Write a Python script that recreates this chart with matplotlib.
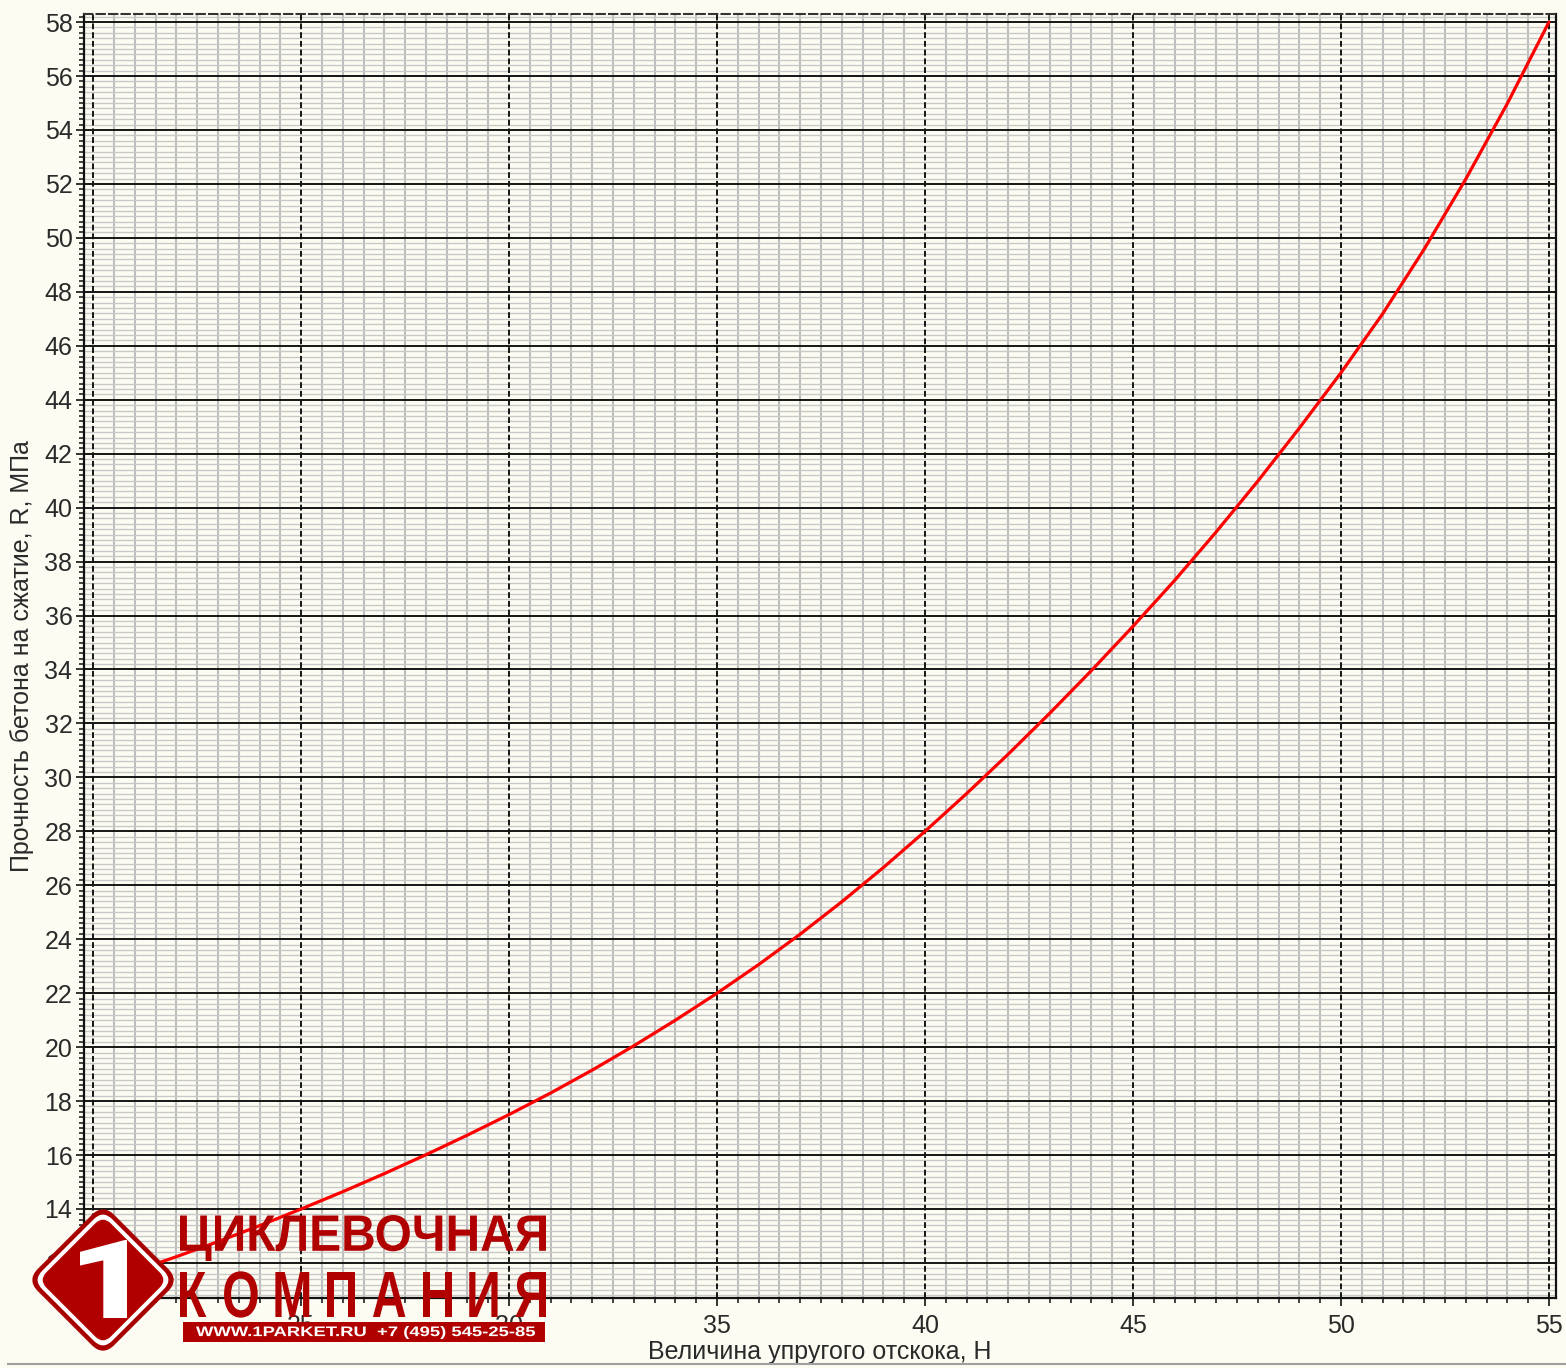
import matplotlib
matplotlib.use('Agg')
import matplotlib.pyplot as plt
from matplotlib.textpath import TextPath
from matplotlib.font_manager import FontProperties
from matplotlib.patches import PathPatch, FancyBboxPatch, Rectangle
from matplotlib.transforms import Affine2D
from matplotlib.ticker import MultipleLocator

# ---- data ----
rebound_H = [20, 21, 22, 23, 24, 25, 26, 27, 28, 29, 30, 31, 32, 33, 34, 35, 36, 37,
             38, 39, 40, 41, 42, 43, 44, 45, 46, 47, 48, 49, 50, 51, 52, 53, 54, 55]
strength_R = [11.20, 11.70, 12.23, 12.79, 13.38, 14.00, 14.64, 15.31, 16.01, 16.74,
              17.50, 18.30, 19.15, 20.05, 21.00, 22.00, 23.06, 24.19, 25.39, 26.66,
              28.00, 29.40, 30.86, 32.38, 33.96, 35.60, 37.30, 39.10, 40.98, 42.95,
              45.00, 47.18, 49.58, 52.18, 54.98, 58.00]
x_label = "Величина упругого отскока, Н"
y_label = "Прочность бетона на сжатие, R, МПа"
logo_line1 = "ЦИКЛЕВОЧНАЯ"
logo_line2 = "КОМПАНИЯ"
logo_line3 = "WWW.1PARKET.RU  +7 (495) 545-25-85"
logo_digit = "1"

W, Hpx = 1566, 1368
BG = '#fdfcf3'
plt.rcParams['font.family'] = ['Liberation Sans', 'DejaVu Sans']

fig = plt.figure(figsize=(W / 100, Hpx / 100), dpi=100, facecolor=BG)
ax = fig.add_axes([84 / W, 1 - 1298 / Hpx, 1472 / W, 1284 / Hpx], facecolor=BG)

ax.plot(rebound_H, strength_R, color='#ff0000', lw=2.3, zorder=5,
        solid_capstyle='round', solid_joinstyle='round')

ax.set_xlim(19.78, 55.17)
ax.set_ylim(10.7, 58.3)
ax.xaxis.set_major_locator(MultipleLocator(5))
ax.xaxis.set_minor_locator(MultipleLocator(0.5))
ax.yaxis.set_major_locator(MultipleLocator(2))
ax.yaxis.set_minor_locator(MultipleLocator(0.2))

ax.set_axisbelow(True)
ax.grid(axis='x', which='minor', color='#bdbdbd', lw=1.5, ls='-')
ax.grid(axis='y', which='minor', color='#c8c8c8', lw=1.0, ls='-')
for v in ax.get_xticks():
    if 19.78 <= v <= 55.17:
        ax.axvline(v, color='#151515', lw=1.4, ls=(0, (3, 1.5)), zorder=2)
for v in ax.get_yticks():
    if 10.7 <= v <= 58.3:
        ax.axhline(v, color='#151515', lw=1.4, zorder=2)

ax.tick_params(axis='both', which='major', direction='out', length=5.8, width=1.2,
               labelsize=18, labelcolor='#2a2a2a', color='#111111')
ax.tick_params(axis='both', which='minor', direction='out', length=3.5, width=1.1,
               color='#111111')
ax.tick_params(axis='y', which='major', pad=2.5)
ax.tick_params(axis='x', which='major', pad=5.5)

for s in ['left', 'right', 'bottom']:
    ax.spines[s].set_color('#111111')
    ax.spines[s].set_linewidth(1.6)
ax.spines['top'].set_color('#333333')
ax.spines['top'].set_linewidth(1.5)
ax.spines['top'].set_linestyle((0, (4, 2)))

ax.set_xlabel(x_label, fontsize=18, color='#2a2a2a', va='center', ha='center')
ax.xaxis.set_label_coords(0.5, -(1352 - 1298) / 1284)
ax.set_ylabel(y_label, fontsize=18, color='#2a2a2a', va='center', ha='center')
ax.yaxis.set_label_coords(-(84 - 22) / 1472, 0.5)

# ---- overlay (logo & frame line) in pixel coordinates ----
ov = fig.add_axes([0, 0, 1, 1], zorder=10)
ov.set_xlim(0, W)
ov.set_ylim(Hpx, 0)
ov.axis('off')
ov.patch.set_alpha(0)

ov.plot([8, W], [1364, 1364], color='#a0a0a0', lw=1.5)

RED = '#b00000'


def fit_text(s, x0, y0, x1, y1, color, family='Liberation Sans', weight='bold'):
    tp = TextPath((0, 0), s, size=100, prop=FontProperties(family=family, weight=weight))
    e = tp.get_extents()
    sx = (x1 - x0) / e.width
    sy = (y1 - y0) / e.height
    tr = Affine2D().translate(-e.x0, -e.y0).scale(sx, -sy).translate(x0, y1)
    ov.add_patch(PathPatch(tr.transform_path(tp), fc=color, ec='none', lw=0))


def diamond(cx, cy, side, r, color):
    p = FancyBboxPatch((-side / 2, -side / 2), side, side,
                       boxstyle=f"round,pad=0,rounding_size={r}", fc=color, ec='none')
    p.set_transform(Affine2D().rotate_deg(45).translate(cx, cy) + ov.transData)
    ov.add_patch(p)


cx, cy = 103, 1280
diamond(cx, cy, 108, 16, '#a80000')
diamond(cx, cy, 99, 13, 'white')
diamond(cx, cy, 91, 11, RED)
fit_text(logo_digit, 80, 1240, 127, 1318, 'white', family='Roboto', weight='black')

fit_text(logo_line1, 180, 1215, 546, 1261, RED)

# spaced second line
prop = FontProperties(family='Liberation Sans', weight='bold')
paths = [TextPath((0, 0), ch, size=100, prop=prop) for ch in logo_line2]
top, bot = 1272, 1317
ref_h = TextPath((0, 0), "H", size=100, prop=prop).get_extents().height
scale = (bot - top) / ref_h
wf = 0.74
widths = [p.get_extents().width * scale * wf for p in paths]
gap = (546 - 180 - sum(widths)) / (len(paths) - 1)
xpos = 180
for p, w in zip(paths, widths):
    e = p.get_extents()
    tr = Affine2D().translate(-e.x0, 0).scale(scale * wf, -scale).translate(xpos, bot)
    ov.add_patch(PathPatch(tr.transform_path(p), fc=RED, ec='none', lw=0))
    xpos += w + gap

ov.add_patch(Rectangle((183, 1322), 362, 20, fc=RED, ec='none'))
fit_text(logo_line3, 196, 1326, 535, 1339, 'white')

fig.savefig('out.png', dpi=100, facecolor=BG)
